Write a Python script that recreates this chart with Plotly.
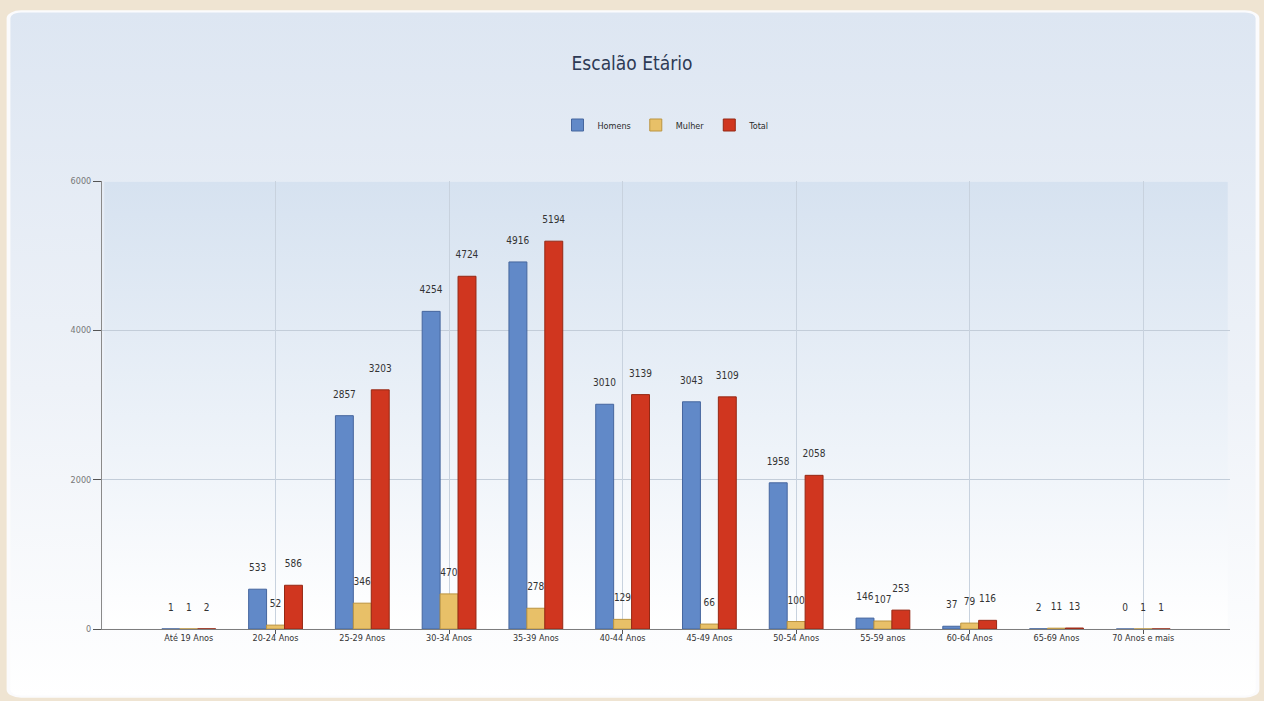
import base64
import plotly.graph_objects as go

# Age brackets and counts per group
categorias = ["Até 19 Anos", "20-24 Anos", "25-29 Anos", "30-34 Anos", "35-39 Anos",
              "40-44 Anos", "45-49 Anos", "50-54 Anos", "55-59 anos", "60-64 Anos",
              "65-69 Anos", "70 Anos e mais"]
homens = [1, 533, 2857, 4254, 4916, 3010, 3043, 1958, 146, 37, 2, 0]
mulher = [1, 52, 346, 470, 278, 129, 66, 100, 107, 79, 11, 1]
total = [2, 586, 3203, 4724, 5194, 3139, 3109, 2058, 253, 116, 13, 1]
y_ticks = [0, 2000, 4000, 6000]

W, H = 1264, 701
L, R, T, B = 102, 34, 181, 72
plot_w = W - L - R
plot_h = H - T - B

FONT = "DejaVu Sans Condensed, Liberation Sans Narrow, DejaVu Sans, sans-serif"


def font(size, color):
    return dict(family=FONT, size=size, color=color)


def svg_gradient(stops, rx=0, stroke=None):
    stop_xml = "".join(
        f'<stop offset="{o}" stop-color="{c}"/>' for o, c in stops
    )
    border = f' stroke="{stroke}" stroke-width="3"' if stroke else ""
    svg = (
        '<svg xmlns="http://www.w3.org/2000/svg" width="1000" height="1000" '
        'preserveAspectRatio="none" viewBox="0 0 1000 1000">'
        f'<defs><linearGradient id="g" x1="0" y1="0" x2="0" y2="1">{stop_xml}</linearGradient></defs>'
        f'<rect x="2" y="2" width="996" height="996" rx="{rx}" ry="{rx}" fill="url(#g)"{border}/>'
        '</svg>'
    )
    return "data:image/svg+xml;base64," + base64.b64encode(svg.encode()).decode()


def to_px_x(px):
    return (px - L) / plot_w


def to_px_y(py):
    return (H - B - py) / plot_h


x_idx = list(range(len(categorias)))

series = [
    ("Homens", homens, "#6189c8", "#46669e"),
    ("Mulher", mulher, "#e8c068", "#bb9440"),
    ("Total", total, "#d0361f", "#952814"),
]

fig = go.Figure()
for nome, vals, cor, borda in series:
    fig.add_trace(go.Bar(
        name=nome,
        x=x_idx,
        y=vals,
        marker=dict(color=cor, line=dict(color=borda, width=1)),
        text=[f"{v}<br> " for v in vals],
        textposition="outside",
        textangle=0,
        constraintext="none",
        textfont=font(10, "#333333"),
        cliponaxis=False,
        hovertemplate="%{x}: %{y}<extra>" + nome + "</extra>",
    ))

fig.update_layout(
    width=W,
    height=H,
    margin=dict(l=L, r=R, t=T, b=B),
    paper_bgcolor="#efe4d2",
    plot_bgcolor="rgba(0,0,0,0)",
    barmode="group",
    bargap=0.38,
    bargroupgap=0,
    title=dict(
        text="Escalão Etário",
        x=0.5, xanchor="center",
        y=1 - 63 / H, yanchor="middle",
        font=font(19, "#2d3a55"),
    ),
    legend=dict(
        orientation="h",
        x=0.5, xanchor="center",
        y=to_px_y(125), yanchor="middle",
        font=font(9, "#2a2a2a"),
        bgcolor="rgba(0,0,0,0)",
        itemwidth=30,
    ),
    xaxis=dict(
        range=[-1, 12],
        tickvals=x_idx,
        ticktext=categorias,
        showgrid=False,
        ticks="",
        showline=True,
        linecolor="#7d7d7d",
        linewidth=1,
        tickfont=font(9, "#333333"),
        zeroline=False,
        fixedrange=True,
    ),
    xaxis2=dict(
        overlaying="x",
        anchor="y",
        side="bottom",
        range=[-1, 12],
        tickvals=x_idx[1::2],
        showticklabels=False,
        showgrid=True,
        gridcolor="#c8d2de",
        gridwidth=1,
        ticks="outside",
        ticklen=4,
        tickcolor="#555555",
        showline=False,
        zeroline=False,
    ),
    yaxis=dict(
        range=[0, 6000],
        tickvals=y_ticks,
        ticktext=[str(v) for v in y_ticks],
        showgrid=True,
        gridcolor="#c3cdd9",
        gridwidth=1,
        showline=True,
        linecolor="#8a8a8a",
        ticks="outside",
        ticklen=8,
        tickcolor="#555555",
        tickfont=font(9, "#777777"),
        zeroline=False,
        fixedrange=True,
    ),
    images=[
        # rounded light panel behind the chart
        dict(
            source=svg_gradient([(0, "#dde6f2"), (0.55, "#eef2f8"), (1, "#ffffff")],
                                rx=10, stroke="#fbfbfd"),
            xref="paper", yref="paper",
            x=to_px_x(6), y=to_px_y(10),
            sizex=to_px_x(1260) - to_px_x(6),
            sizey=to_px_y(10) - to_px_y(698),
            xanchor="left", yanchor="top",
            sizing="stretch", layer="below",
        ),
        # plot area shading
        dict(
            source=svg_gradient([(0, "#d6e2f0"), (0.6, "#eef3f9"), (1, "#ffffff")]),
            xref="paper", yref="paper",
            x=0, y=1, sizex=1, sizey=1,
            xanchor="left", yanchor="top",
            sizing="stretch", layer="below",
        ),
    ],
)

# invisible trace to keep the secondary grid axis active
fig.add_trace(go.Scatter(x=[0], y=[0], xaxis="x2", mode="markers",
                         marker=dict(opacity=0), showlegend=False, hoverinfo="skip"))

fig.write_html("out.html")
